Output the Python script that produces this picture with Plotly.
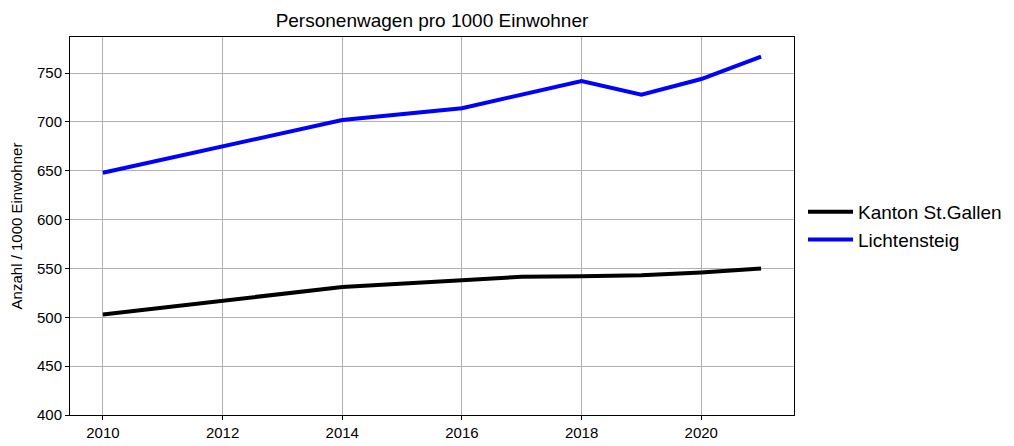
import plotly.graph_objects as go

years = [2010, 2014, 2016, 2017, 2018, 2019, 2020, 2021]
kanton = [503, 531, 538, 541.5, 542, 543, 546, 550]
lichtensteig = [648, 702, 714, 727.5, 742, 728, 744, 767]

title = "Personenwagen pro 1000 Einwohner"
y_title = "Anzahl / 1000 Einwohner"
x_ticks = [2010, 2012, 2014, 2016, 2018, 2020]
y_ticks = [400, 450, 500, 550, 600, 650, 700, 750]

font = "Liberation Sans, Arial, sans-serif"

W, H = 1014, 446
ML, MR, MT, MB = 70, 0, 37, 31
plot_w = 724
paper_w = W - ML - MR

fig = go.Figure()
fig.add_trace(go.Scatter(x=years, y=kanton, mode="lines", name="Kanton St.Gallen",
                         line=dict(color="black", width=4)))
fig.add_trace(go.Scatter(x=years, y=lichtensteig, mode="lines", name="Lichtensteig",
                         line=dict(color="#0000ff", width=4)))

axis_common = dict(showline=True, linecolor="black", linewidth=1, mirror=True,
                   ticks="outside", ticklen=4, tickwidth=1, tickcolor="black",
                   showgrid=True, gridcolor="#b0b0b0", gridwidth=1, zeroline=False,
                   automargin=False,
                   tickfont=dict(family=font, size=15, color="black"))

fig.update_layout(
    width=W, height=H,
    margin=dict(l=ML, r=MR, t=MT, b=MB),
    paper_bgcolor="white", plot_bgcolor="white",
    title=dict(text=title, x=0.426, xanchor="center", y=0.955, yanchor="middle",
               font=dict(family=font, size=19, color="black")),
    xaxis=dict(range=[2009.45, 2021.55], tickvals=x_ticks, domain=[0, plot_w / paper_w],
               **axis_common),
    yaxis=dict(range=[400, 787], tickvals=y_ticks,
               title=dict(text=y_title, font=dict(family=font, size=15, color="black"), standoff=10),
               **axis_common),
    legend=dict(x=(803 - ML) / paper_w, y=0.5, xanchor="left", yanchor="middle",
                font=dict(family=font, size=19, color="black"),
                bgcolor="rgba(0,0,0,0)", tracegroupgap=0, itemwidth=45),
    showlegend=True,
)

fig.write_html("out.html", config={"displayModeBar": False},
               post_script="document.body.style.margin='0px';document.body.style.overflow='hidden';")
